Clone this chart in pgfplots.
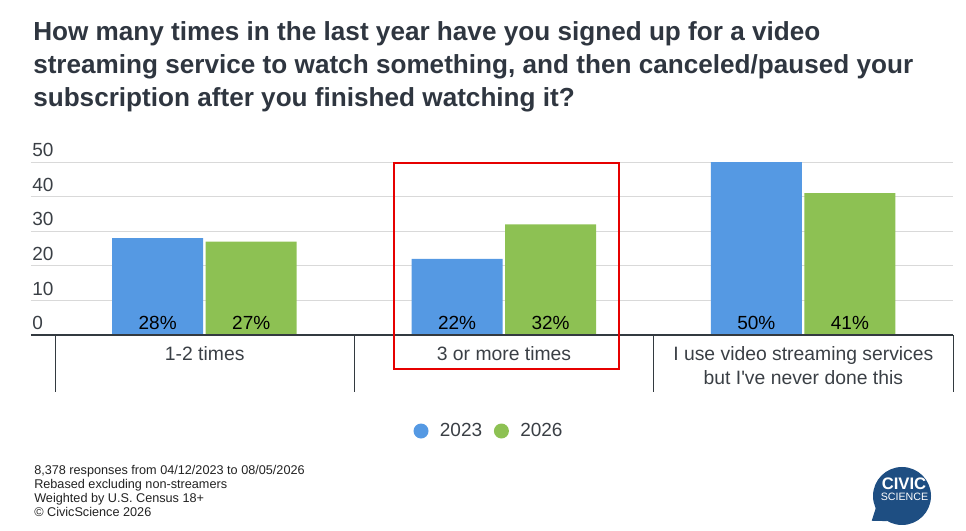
\documentclass[border=0pt]{standalone}
\usepackage{pgfplots}
\pgfplotsset{compat=1.18}
\usepackage{pgfplotstable}
\usepackage{fontspec}
\setmainfont{Liberation Sans}
\definecolor{c23}{RGB}{85,153,227}
\definecolor{c26}{RGB}{141,193,83}
\definecolor{titlec}{RGB}{47,54,64}
\definecolor{labc}{RGB}{58,63,69}
\definecolor{gridc}{RGB}{217,217,217}
\definecolor{axisc}{RGB}{51,58,64}
\definecolor{redc}{RGB}{230,0,0}
\definecolor{logoc}{RGB}{30,78,130}
\definecolor{footc}{RGB}{34,34,34}

\pgfplotstableread{
x y2023 y2026
0 28 27
1 22 32
2 50 41
}\data

\begin{document}
\begin{tikzpicture}
\path[use as bounding box] (0,0) rectangle (724.5pt,398.25pt);
% title
\begin{scope}[every node/.style={anchor=base west, inner sep=0pt, text=titlec, font=\bfseries\fontsize{19.6pt}{23pt}\selectfont}]
\node at (24.75pt,367.5pt) {How many times in the last year have you signed up for a video};
\node at (24.75pt,342.75pt) {streaming service to watch something, and then canceled/paused your};
\node at (24.75pt,318pt) {subscription after you finished watching it?};
\end{scope}
% footer
\begin{scope}[every node/.style={anchor=base west, inner sep=0pt, text=footc, font=\fontsize{9.5pt}{10.5pt}\selectfont}]
\node at (25.5pt,42pt) {8,378 responses from 04/12/2023 to 08/05/2026};
\node at (25.5pt,31.5pt) {Rebased excluding non-streamers};
\node at (25.5pt,21pt) {Weighted by U.S. Census 18+};
\node at (25.5pt,10.5pt) {© CivicScience 2026};
\end{scope}
% logo
\fill[logoc] (676.5pt,26.25pt) circle (21.75pt);
\fill[logoc] (656.8pt,17.1pt) -- (653.8pt,7.7pt) -- (665.6pt,7.4pt) -- cycle;
\node[anchor=base, inner sep=0pt, text=white, font=\bfseries\fontsize{12.5pt}{14pt}\selectfont] at (678pt,30.75pt) {CIVIC};
\node[anchor=base, inner sep=0pt, text=white, font=\fontsize{8pt}{10pt}\selectfont] at (678.4pt,22.5pt) {SCIENCE};

\begin{axis}[
  at={(23.25pt,147pt)}, anchor=south west,
  scale only axis, width=691.5pt, height=129.75pt,
  xmin=-0.58027, xmax=2.5, ymin=0, ymax=50,
  enlargelimits=false, clip=false,
  /pgf/number format/assume math mode=true,
  axis x line*=bottom, axis y line*=left,
  x axis line style={draw=none}, y axis line style={draw=none},
  major tick length=0pt,
  ytick={0,10,20,30,40,50},
  ymajorgrids, grid style={draw=gridc, line width=0.75pt},
  yticklabel style={anchor=base west, inner sep=0pt, xshift=0.75pt, yshift=4pt,
    font=\fontsize{14.25pt}{17pt}\selectfont, text=labc},
  xtick={0,1,2},
  xticklabels={1-2 times, 3 or more times, {I use video streaming services\\but I\textquotesingle ve never done this}},
  xticklabel style={anchor=north, inner sep=0pt, yshift=-8.25pt, align=center,
    font=\fontsize{14.5pt}{18pt}\selectfont, text=labc},
  ybar, bar width=68.25pt,
  nodes near coords={\pgfmathprintnumber{\pgfplotspointmeta}\%},
  visualization depends on={rawy \as \rawy},
  every node near coord/.append style={anchor=base, inner sep=0pt, yshift=-\rawy*2.595pt+4.5pt,
    font=\fontsize{14.25pt}{17pt}\selectfont, text=black},
  legend columns=2,
  legend style={at={(0.4957,-0.555)}, anchor=center, draw=none, fill=none, inner sep=0pt,
    font=\fontsize{14.25pt}{17pt}\selectfont, text=labc,
    nodes={inner sep=0pt},
    /tikz/every odd column/.append style={column sep=8.5pt},
    /tikz/every even column/.append style={column sep=8.85pt}},
]
\addplot[fill=c23, draw=none, bar shift=-35.25pt,
  legend image code/.code={\fill[c23] (5.625pt,0pt) circle (5.625pt);}]
  table[x=x, y=y2023] {\data};
\addlegendentry{2023}
\addplot[fill=c26, draw=none, bar shift=34.9pt,
  legend image code/.code={\fill[c26] (5.625pt,0pt) circle (5.625pt);}]
  table[x=x, y=y2026] {\data};
\addlegendentry{2026}
\draw[axisc, line width=1.5pt] (axis cs:-0.58027,0) -- (axis cs:2.5,0);
\pgfplotsinvokeforeach{-0.5,0.5,1.5,2.5}{
  \draw[axisc, line width=0.75pt] (axis cs:#1,0) -- ++(0pt,-42.75pt);
}
\draw[redc, line width=1.5pt] (axis cs:0.6338,49.8) rectangle (axis cs:1.3829,-9.83);
\end{axis}
\end{tikzpicture}
\end{document}
